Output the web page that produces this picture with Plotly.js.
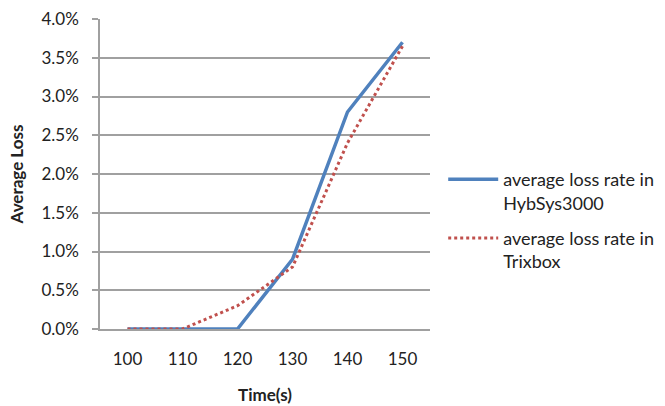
<!DOCTYPE html>
<html><head><meta charset="utf-8">
<script src="https://cdn.plot.ly/plotly-3.0.1.min.js"></script>
<style>html,body{margin:0;padding:0;background:#fff}#c{width:665px;height:406px}</style>
</head><body><div id="c"></div>
<script>
const categories = ['100','110','120','130','140','150'];
const hybsys = [0, 0, 0, 0.009, 0.028, 0.037];
const trixbox = [0, 0, 0.003, 0.008, 0.024, 0.0365];
const seriesNames = ['average loss rate in<br>HybSys3000', 'average loss rate in<br>Trixbox'];
const yTicks = [0, 0.005, 0.01, 0.015, 0.02, 0.025, 0.03, 0.035, 0.04];

const font = 'Lato, "Open Sans", sans-serif';
const data = [
  {x: categories, y: hybsys, name: seriesNames[0], legendgroup: 'a', type: 'scatter', mode: 'lines',
   line: {color: '#4f81bd', width: 3.5}},
  {x: categories, y: trixbox, name: seriesNames[1], legendgroup: 'b', type: 'scatter', mode: 'lines',
   line: {color: '#c0504d', width: 3, dash: 'dot'}}
];
const layout = {
  width: 665, height: 406,
  margin: {l: 100, r: 235, t: 19, b: 77, autoexpand: false},
  paper_bgcolor: '#fff', plot_bgcolor: '#fff',
  font: {family: font, size: 17, color: '#222'},
  showlegend: true,
  legend: {x: 1.04, xanchor: 'left', y: 0.35, yanchor: 'middle', font: {size: 18, color: '#222'},
           tracegroupgap: 9, itemwidth: 50, valign: 'top'},
  xaxis: {type: 'category', range: [-0.5, 5.5], showgrid: false, showline: true, linecolor: '#a0a0a0', linewidth: 1.5,
          ticks: '', tickfont: {size: 17}, zeroline: false, ticklabelstandoff: 14,
          title: {text: '<b>Time(s)</b>', font: {size: 17}, standoff: 21}},
  yaxis: {range: [0, 0.04], tickvals: yTicks, tickformat: '.1%', showgrid: true, gridcolor: '#a0a0a0',
          gridwidth: 1.5, showline: true, linecolor: '#a0a0a0', linewidth: 1.5, ticks: 'outside',
          ticklen: 6, tickcolor: '#a0a0a0', tickwidth: 1.5, tickfont: {size: 17}, zeroline: false,
          ticklabelstandoff: 10,
          title: {text: '<b>Average Loss</b>', font: {size: 17}, standoff: 14}}
};
Plotly.newPlot('c', data, layout, {displayModeBar: false});
</script></body></html>
